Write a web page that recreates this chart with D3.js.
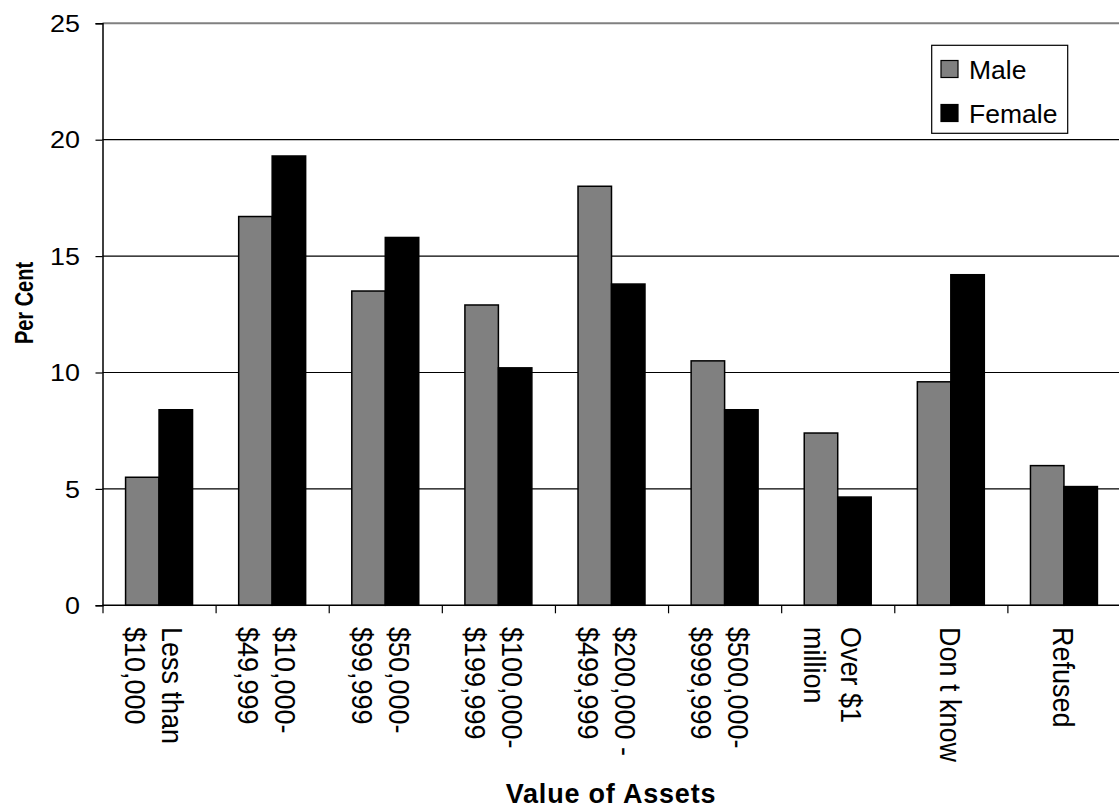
<!DOCTYPE html>
<html>
<head>
<meta charset="utf-8">
<script src="https://cdn.jsdelivr.net/npm/d3@7"></script>
<style>
  html, body { margin: 0; padding: 0; background: #fff; }
  svg { display: block; font-family: "Liberation Sans", Arial, sans-serif; }
</style>
</head>
<body>
<svg id="chart" width="1119" height="808"></svg>
<script>
// ---- data ----
const categories = [
  "Less than\n$10,000",
  "$10,000-\n$49,999",
  "$50,000-\n$99,999",
  "$100,000-\n$199,999",
  "$200,000 -\n$499,999",
  "$500,000-\n$999,999",
  "Over $1\nmillion",
  "Don t know",
  "Refused"
];
const seriesNames = ["Male", "Female"];
const maleValues   = [5.5, 16.7, 13.5, 12.9, 18.0, 10.5, 7.4, 9.6, 6.0];
const femaleValues = [8.4, 19.3, 15.8, 10.2, 13.8, 8.4, 4.65, 14.2, 5.1];
const yTicks = [0, 5, 10, 15, 20, 25];
const yTitle = "Per Cent";
const xTitle = "Value of Assets";

// ---- layout ----
const pLeft = 102.5, pRight = 1120.5, pTop = 23.3, pBottom = 605.3;
const colors = ["#808080", "#000000"];

const svg = d3.select("#chart");

const y = d3.scaleLinear().domain([0, 25]).range([pBottom, pTop]);
const x0 = d3.scaleBand().domain(categories).range([pLeft, pRight])
  .paddingInner(0.408).paddingOuter(0.204);
const x1 = d3.scaleBand().domain(seriesNames).range([0, x0.bandwidth()]);

// gridlines
svg.append("g").selectAll("line")
  .data(yTicks.filter(t => t > 0))
  .join("line")
  .attr("x1", pLeft).attr("x2", pRight)
  .attr("y1", d => y(d)).attr("y2", d => y(d))
  .attr("stroke", d => d === 25 ? "#808080" : "#000")
  .attr("stroke-width", d => d === 25 ? 2 : 1.2);

// bars
const rows = categories.map((c, i) => ({ cat: c, vals: [maleValues[i], femaleValues[i]] }));
const groups = svg.append("g").selectAll("g")
  .data(rows).join("g")
  .attr("transform", d => `translate(${x0(d.cat)},0)`);
groups.selectAll("rect")
  .data(d => d.vals.map((v, j) => ({ name: seriesNames[j], v, j })))
  .join("rect")
  .attr("x", d => x1(d.name))
  .attr("width", x1.bandwidth())
  .attr("y", d => y(d.v))
  .attr("height", d => y(0) - y(d.v))
  .attr("fill", d => colors[d.j])
  .attr("stroke", "#000")
  .attr("stroke-width", 1.5);

// y axis
const yAxis = d3.axisLeft(y).tickValues(yTicks).tickSize(7).tickFormat(d3.format("d"));
const gy = svg.append("g").attr("transform", `translate(${pLeft},0)`).call(yAxis);
gy.select(".domain").attr("stroke", "#000").attr("stroke-width", 1.5);
gy.selectAll(".tick line").attr("stroke", "#000").attr("stroke-width", 1.2);
gy.selectAll(".tick text")
  .attr("x", 0)
  .attr("dy", "0.36em")
  .attr("transform", "translate(-22.5,0) scale(1.17,1)")
  .attr("font-size", 23)
  .attr("font-family", "Liberation Sans, Arial, sans-serif")
  .attr("fill", "#000");

// x axis
const xAxis = d3.axisBottom(
  d3.scalePoint().domain(d3.range(categories.length + 1)).range([pLeft, pLeft + x0.step() * categories.length])
).tickSize(8).tickFormat("");
const gx = svg.append("g").attr("transform", `translate(0,${pBottom})`).call(xAxis);
gx.select(".domain").attr("stroke", "#000").attr("stroke-width", 1.5).attr("d", `M${pLeft},0H${pRight}`);
gx.selectAll(".tick line").attr("stroke", "#000").attr("stroke-width", 1.2);

// x category labels (rotated)
const crossScale = 1.12;
const lineGap = 37 / crossScale;
const lab = svg.append("g").selectAll("text")
  .data(categories).join("text")
  .attr("transform", d => `translate(${x0(d) + x0.bandwidth() / 2},627) rotate(90) scale(1,${crossScale})`)
  .attr("font-size", 27)
  .attr("fill", "#000");
lab.each(function(d) {
  const lines = d.split("\n");
  const y0 = (10.7 - (lines.length - 1) * 14) / crossScale;
  d3.select(this).selectAll("tspan").data(lines).join("tspan")
    .attr("x", 0)
    .attr("y", (l, i) => y0 + i * lineGap)
    .text(l => l);
});

// axis titles
svg.append("text")
  .attr("transform", "translate(33,303) rotate(-90) scale(1,1.3)")
  .attr("text-anchor", "middle")
  .attr("font-size", 20)
  .attr("font-weight", "bold")
  .text(yTitle);

svg.append("text")
  .attr("x", 611).attr("y", 802.5)
  .attr("text-anchor", "middle")
  .attr("font-size", 27)
  .attr("font-weight", "bold")
  .attr("letter-spacing", 0.8)
  .text(xTitle);

// legend
const lg = svg.append("g");
lg.append("rect")
  .attr("x", 931.7).attr("y", 45.3).attr("width", 136).attr("height", 88)
  .attr("fill", "#fff").attr("stroke", "#000").attr("stroke-width", 1.2);
const li = lg.selectAll("g.item").data(seriesNames).join("g")
  .attr("class", "item")
  .attr("transform", (d, i) => `translate(941,${60.5 + i * 44})`);
li.append("rect")
  .attr("width", 17).attr("height", 17)
  .attr("fill", (d, i) => colors[i])
  .attr("stroke", "#000").attr("stroke-width", 1.2);
li.append("text")
  .attr("x", 28).attr("y", 18.8)
  .attr("transform", "translate(0,0)")
  .attr("font-size", 26.5)
  .attr("fill", "#000")
  .text(d => d);
</script>
</body>
</html>
